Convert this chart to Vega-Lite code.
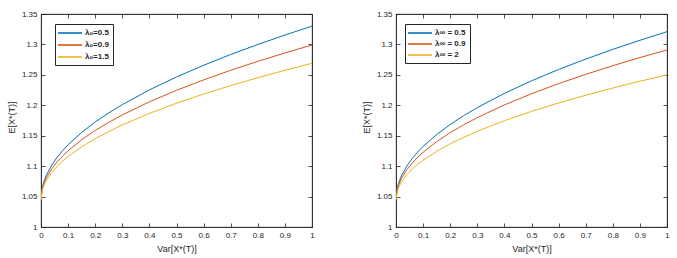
{
  "$schema": "https://vega.github.io/schema/vega-lite/v6.json",
  "autosize": {"type": "pad"},
  "padding": {"left": 6, "top": 9, "right": 0, "bottom": 0},
  "background": "white",
  "config": {
    "view": {"stroke": "#262626", "strokeWidth": 0.8},
    "axis": {
      "labelFont": "Liberation Sans", "labelFontSize": 8, "labelColor": "#262626",
      "titleFont": "Liberation Sans", "titleFontSize": 9, "titleFontWeight": "normal", "titleColor": "#262626",
      "domainColor": "#262626", "domainWidth": 0.8, "tickColor": "#262626", "tickWidth": 0.8,
      "tickSize": -4, "grid": false, "labelPadding": 8, "labelOverlap": false, "labelFlush": false
    },
    "legend": {
      "labelFont": "Liberation Sans", "labelFontSize": 8, "labelFontWeight": "bold", "labelColor": "#262626",
      "symbolType": "M-3,0H3", "symbolSize": 64, "symbolStrokeWidth": 1.6, "symbolOffset": 6,
      "strokeColor": "#262626", "fillColor": "white", "padding": 4, "labelOffset": 10
    }
  },
  "datasets": {
    "left": [
      {"x": 0, "y": 1.045, "s": "λ₀=0.5"}, {"x": 0.005, "y": 1.0652, "s": "λ₀=0.5"}, {"x": 0.01, "y": 1.0735, "s": "λ₀=0.5"}, {"x": 0.02, "y": 1.0853, "s": "λ₀=0.5"}, {"x": 0.04, "y": 1.102, "s": "λ₀=0.5"}, {"x": 0.06, "y": 1.1148, "s": "λ₀=0.5"}, {"x": 0.08, "y": 1.1256, "s": "λ₀=0.5"}, {"x": 0.1, "y": 1.1351, "s": "λ₀=0.5"}, {"x": 0.15, "y": 1.1554, "s": "λ₀=0.5"}, {"x": 0.2, "y": 1.1725, "s": "λ₀=0.5"}, {"x": 0.25, "y": 1.1875, "s": "λ₀=0.5"}, {"x": 0.3, "y": 1.2011, "s": "λ₀=0.5"}, {"x": 0.4, "y": 1.2253, "s": "λ₀=0.5"}, {"x": 0.5, "y": 1.2465, "s": "λ₀=0.5"}, {"x": 0.6, "y": 1.2658, "s": "λ₀=0.5"}, {"x": 0.7, "y": 1.2835, "s": "λ₀=0.5"}, {"x": 0.8, "y": 1.2999, "s": "λ₀=0.5"}, {"x": 0.9, "y": 1.3154, "s": "λ₀=0.5"}, {"x": 1, "y": 1.33, "s": "λ₀=0.5"},
      {"x": 0, "y": 1.045, "s": "λ₀=0.9"}, {"x": 0.005, "y": 1.063, "s": "λ₀=0.9"}, {"x": 0.01, "y": 1.0704, "s": "λ₀=0.9"}, {"x": 0.02, "y": 1.0809, "s": "λ₀=0.9"}, {"x": 0.04, "y": 1.0958, "s": "λ₀=0.9"}, {"x": 0.06, "y": 1.1072, "s": "λ₀=0.9"}, {"x": 0.08, "y": 1.1168, "s": "λ₀=0.9"}, {"x": 0.1, "y": 1.1253, "s": "λ₀=0.9"}, {"x": 0.15, "y": 1.1434, "s": "λ₀=0.9"}, {"x": 0.2, "y": 1.1586, "s": "λ₀=0.9"}, {"x": 0.25, "y": 1.172, "s": "λ₀=0.9"}, {"x": 0.3, "y": 1.1841, "s": "λ₀=0.9"}, {"x": 0.4, "y": 1.2057, "s": "λ₀=0.9"}, {"x": 0.5, "y": 1.2246, "s": "λ₀=0.9"}, {"x": 0.6, "y": 1.2417, "s": "λ₀=0.9"}, {"x": 0.7, "y": 1.2575, "s": "λ₀=0.9"}, {"x": 0.8, "y": 1.2722, "s": "λ₀=0.9"}, {"x": 0.9, "y": 1.286, "s": "λ₀=0.9"}, {"x": 1, "y": 1.299, "s": "λ₀=0.9"},
      {"x": 0, "y": 1.045, "s": "λ₀=1.5"}, {"x": 0.005, "y": 1.0608, "s": "λ₀=1.5"}, {"x": 0.01, "y": 1.0674, "s": "λ₀=1.5"}, {"x": 0.02, "y": 1.0767, "s": "λ₀=1.5"}, {"x": 0.04, "y": 1.0898, "s": "λ₀=1.5"}, {"x": 0.06, "y": 1.0999, "s": "λ₀=1.5"}, {"x": 0.08, "y": 1.1084, "s": "λ₀=1.5"}, {"x": 0.1, "y": 1.1158, "s": "λ₀=1.5"}, {"x": 0.15, "y": 1.1318, "s": "λ₀=1.5"}, {"x": 0.2, "y": 1.1452, "s": "λ₀=1.5"}, {"x": 0.25, "y": 1.157, "s": "λ₀=1.5"}, {"x": 0.3, "y": 1.1677, "s": "λ₀=1.5"}, {"x": 0.4, "y": 1.1867, "s": "λ₀=1.5"}, {"x": 0.5, "y": 1.2034, "s": "λ₀=1.5"}, {"x": 0.6, "y": 1.2185, "s": "λ₀=1.5"}, {"x": 0.7, "y": 1.2324, "s": "λ₀=1.5"}, {"x": 0.8, "y": 1.2453, "s": "λ₀=1.5"}, {"x": 0.9, "y": 1.2575, "s": "λ₀=1.5"}, {"x": 1, "y": 1.269, "s": "λ₀=1.5"}
    ],
    "right": [
      {"x": 0, "y": 1.045, "s": "λ∞ = 0.5"}, {"x": 0.005, "y": 1.0645, "s": "λ∞ = 0.5"}, {"x": 0.01, "y": 1.0726, "s": "λ∞ = 0.5"}, {"x": 0.02, "y": 1.084, "s": "λ∞ = 0.5"}, {"x": 0.04, "y": 1.1002, "s": "λ∞ = 0.5"}, {"x": 0.06, "y": 1.1126, "s": "λ∞ = 0.5"}, {"x": 0.08, "y": 1.1231, "s": "λ∞ = 0.5"}, {"x": 0.1, "y": 1.1323, "s": "λ∞ = 0.5"}, {"x": 0.15, "y": 1.1519, "s": "λ∞ = 0.5"}, {"x": 0.2, "y": 1.1684, "s": "λ∞ = 0.5"}, {"x": 0.25, "y": 1.183, "s": "λ∞ = 0.5"}, {"x": 0.3, "y": 1.1962, "s": "λ∞ = 0.5"}, {"x": 0.4, "y": 1.2196, "s": "λ∞ = 0.5"}, {"x": 0.5, "y": 1.2402, "s": "λ∞ = 0.5"}, {"x": 0.6, "y": 1.2588, "s": "λ∞ = 0.5"}, {"x": 0.7, "y": 1.2759, "s": "λ∞ = 0.5"}, {"x": 0.8, "y": 1.2919, "s": "λ∞ = 0.5"}, {"x": 0.9, "y": 1.3068, "s": "λ∞ = 0.5"}, {"x": 1, "y": 1.321, "s": "λ∞ = 0.5"},
      {"x": 0, "y": 1.045, "s": "λ∞ = 0.9"}, {"x": 0.005, "y": 1.0624, "s": "λ∞ = 0.9"}, {"x": 0.01, "y": 1.0696, "s": "λ∞ = 0.9"}, {"x": 0.02, "y": 1.0798, "s": "λ∞ = 0.9"}, {"x": 0.04, "y": 1.0942, "s": "λ∞ = 0.9"}, {"x": 0.06, "y": 1.1052, "s": "λ∞ = 0.9"}, {"x": 0.08, "y": 1.1146, "s": "λ∞ = 0.9"}, {"x": 0.1, "y": 1.1228, "s": "λ∞ = 0.9"}, {"x": 0.15, "y": 1.1403, "s": "λ∞ = 0.9"}, {"x": 0.2, "y": 1.155, "s": "λ∞ = 0.9"}, {"x": 0.25, "y": 1.168, "s": "λ∞ = 0.9"}, {"x": 0.3, "y": 1.1797, "s": "λ∞ = 0.9"}, {"x": 0.4, "y": 1.2006, "s": "λ∞ = 0.9"}, {"x": 0.5, "y": 1.2189, "s": "λ∞ = 0.9"}, {"x": 0.6, "y": 1.2356, "s": "λ∞ = 0.9"}, {"x": 0.7, "y": 1.2508, "s": "λ∞ = 0.9"}, {"x": 0.8, "y": 1.265, "s": "λ∞ = 0.9"}, {"x": 0.9, "y": 1.2784, "s": "λ∞ = 0.9"}, {"x": 1, "y": 1.291, "s": "λ∞ = 0.9"},
      {"x": 0, "y": 1.045, "s": "λ∞ = 2"}, {"x": 0.005, "y": 1.0595, "s": "λ∞ = 2"}, {"x": 0.01, "y": 1.0655, "s": "λ∞ = 2"}, {"x": 0.02, "y": 1.074, "s": "λ∞ = 2"}, {"x": 0.04, "y": 1.086, "s": "λ∞ = 2"}, {"x": 0.06, "y": 1.0952, "s": "λ∞ = 2"}, {"x": 0.08, "y": 1.103, "s": "λ∞ = 2"}, {"x": 0.1, "y": 1.1098, "s": "λ∞ = 2"}, {"x": 0.15, "y": 1.1244, "s": "λ∞ = 2"}, {"x": 0.2, "y": 1.1367, "s": "λ∞ = 2"}, {"x": 0.25, "y": 1.1475, "s": "λ∞ = 2"}, {"x": 0.3, "y": 1.1573, "s": "λ∞ = 2"}, {"x": 0.4, "y": 1.1747, "s": "λ∞ = 2"}, {"x": 0.5, "y": 1.19, "s": "λ∞ = 2"}, {"x": 0.6, "y": 1.2038, "s": "λ∞ = 2"}, {"x": 0.7, "y": 1.2165, "s": "λ∞ = 2"}, {"x": 0.8, "y": 1.2284, "s": "λ∞ = 2"}, {"x": 0.9, "y": 1.2395, "s": "λ∞ = 2"}, {"x": 1, "y": 1.25, "s": "λ∞ = 2"}
    ]
  },
  "hconcat": [
    {
      "width": 271, "height": 213,
      "data": {"name": "left"},
      "layer": [
        {
          "mark": {"type": "line", "strokeWidth": 1, "clip": true},
          "encoding": {
            "x": {"field": "x", "type": "quantitative", "scale": {"domain": [0, 1], "nice": false},
              "axis": {"orient": "bottom", "title": "Var[X*(T)]", "values": [0, 0.1, 0.2, 0.3, 0.4, 0.5, 0.6, 0.7, 0.8, 0.9, 1], "format": "~g", "titleBaseline": "middle", "titleY": 21}},
            "y": {"field": "y", "type": "quantitative", "scale": {"domain": [1, 1.35], "nice": false, "zero": false},
              "axis": {"orient": "left", "title": "E[X*(T)]", "values": [1, 1.05, 1.1, 1.15, 1.2, 1.25, 1.3, 1.35], "format": "~g", "titleX": -30, "titleY": 103, "titleBaseline": "middle", "titleAlign": "center"}},
            "color": {"field": "s", "type": "nominal", "title": null,
              "scale": {"domain": ["λ₀=0.5", "λ₀=0.9", "λ₀=1.5"], "range": ["#0072BD", "#D95319", "#EDB120"]},
              "legend": {"orient": "none", "legendX": 14, "legendY": 10, "rowPadding": 3}}
          }
        },
        {
          "mark": {"type": "line", "opacity": 0},
          "encoding": {
            "x": {"field": "x", "type": "quantitative", "scale": {"domain": [0, 1], "nice": false},
              "axis": {"orient": "top", "labels": false, "title": null, "values": [0, 0.1, 0.2, 0.3, 0.4, 0.5, 0.6, 0.7, 0.8, 0.9, 1]}},
            "y": {"field": "y", "type": "quantitative", "scale": {"domain": [1, 1.35], "nice": false, "zero": false},
              "axis": {"orient": "right", "labels": false, "title": null, "values": [1, 1.05, 1.1, 1.15, 1.2, 1.25, 1.3, 1.35]}},
            "detail": {"field": "s"}
          }
        }
      ],
      "resolve": {"axis": {"x": "independent", "y": "independent"}}
    },
    {
      "width": 271, "height": 213,
      "data": {"name": "right"},
      "layer": [
        {
          "mark": {"type": "line", "strokeWidth": 1, "clip": true},
          "encoding": {
            "x": {"field": "x", "type": "quantitative", "scale": {"domain": [0, 1], "nice": false},
              "axis": {"orient": "bottom", "title": "Var[X*(T)]", "values": [0, 0.1, 0.2, 0.3, 0.4, 0.5, 0.6, 0.7, 0.8, 0.9, 1], "format": "~g", "titleBaseline": "middle", "titleY": 21}},
            "y": {"field": "y", "type": "quantitative", "scale": {"domain": [1, 1.35], "nice": false, "zero": false},
              "axis": {"orient": "left", "title": "E[X*(T)]", "values": [1, 1.05, 1.1, 1.15, 1.2, 1.25, 1.3, 1.35], "format": "~g", "titleX": -30, "titleY": 103, "titleBaseline": "middle", "titleAlign": "center"}},
            "color": {"field": "s", "type": "nominal", "title": null,
              "scale": {"domain": ["λ∞ = 0.5", "λ∞ = 0.9", "λ∞ = 2"], "range": ["#0072BD", "#D95319", "#EDB120"]},
              "legend": {"orient": "none", "legendX": 9, "legendY": 10, "rowPadding": 2}}
          }
        },
        {
          "mark": {"type": "line", "opacity": 0},
          "encoding": {
            "x": {"field": "x", "type": "quantitative", "scale": {"domain": [0, 1], "nice": false},
              "axis": {"orient": "top", "labels": false, "title": null, "values": [0, 0.1, 0.2, 0.3, 0.4, 0.5, 0.6, 0.7, 0.8, 0.9, 1]}},
            "y": {"field": "y", "type": "quantitative", "scale": {"domain": [1, 1.35], "nice": false, "zero": false},
              "axis": {"orient": "right", "labels": false, "title": null, "values": [1, 1.05, 1.1, 1.15, 1.2, 1.25, 1.3, 1.35]}},
            "detail": {"field": "s"}
          }
        }
      ],
      "resolve": {"axis": {"x": "independent", "y": "independent"}}
    }
  ],
  "spacing": 84,
  "bounds": "flush",
  "resolve": {"scale": {"color": "independent"}, "legend": {"color": "independent"}}
}
